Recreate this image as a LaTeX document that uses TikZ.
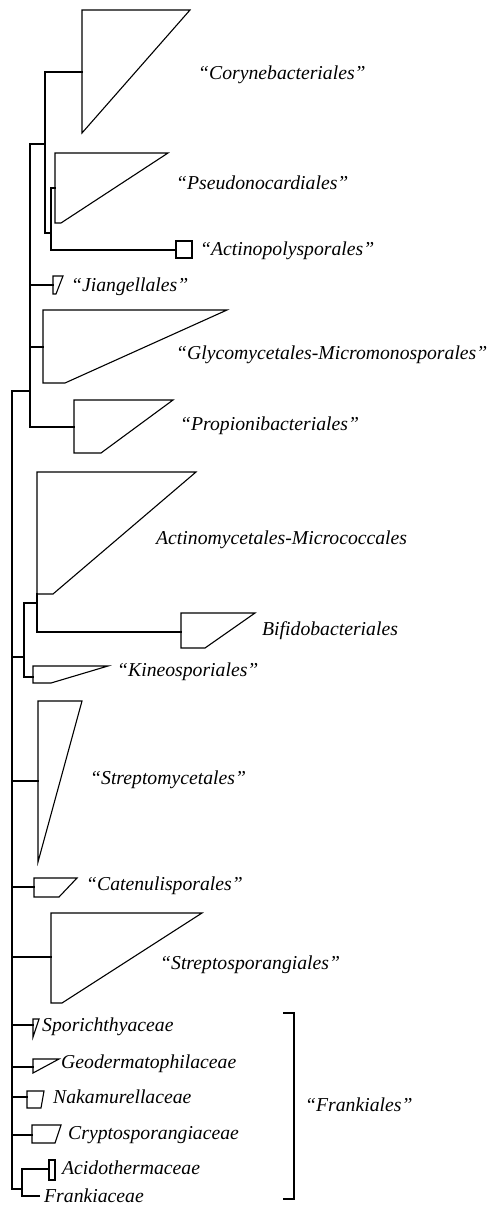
\documentclass[tikz,border=0pt]{standalone}
\usepackage{fontspec}
\setmainfont{Liberation Serif}
\begin{document}
\begin{tikzpicture}[x=1pt,y=-1pt,
  branch/.style={line width=1.1pt, line cap=rect},
  clade/.style={line width=1.1pt, line join=miter},
  lab/.style={anchor=base west, inner sep=0pt, font=\fontsize{19.7}{20}\selectfont\itshape}]
\useasboundingbox (0,0) rectangle (491,1205);
% internal nodes
\coordinate (root) at (12,391);
\coordinate (rootend) at (12,1189);
\coordinate (nA) at (30,391);
\coordinate (nB) at (45,144);
\coordinate (nC) at (51,233);
\coordinate (nD) at (24,657);
\coordinate (nE) at (37,603);
\coordinate (nF) at (22,1189);
% spine
\draw[branch] (root) -- (rootend);
% clade A
\draw[branch] (root) -- (nA);
\draw[branch] (30,144) -- (30,427);
\draw[branch] (30,144) -- (nB);
\draw[branch] (45,72) -- (45,233);
% Corynebacteriales
\coordinate (coryC) at (82,72);
\draw[branch] (45,72) -- (coryC);
\draw[clade] (82,10) -- (190,10) -- (82,133) -- cycle;
\node[lab] (coryL) at (198,79) {“Corynebacteriales”};
% node C
\draw[branch] (45,233) -- (nC);
\draw[branch] (51,188) -- (51,250);
% Pseudonocardiales
\draw[branch] (51,188) -- (55,188);
\draw[clade] (55,153) -- (168,153) -- (61,223) -- (55,223) -- cycle;
\node[lab] (pseuL) at (176,189) {“Pseudonocardiales”};
% Actinopolysporales
\draw[branch] (51,250) -- (176,250);
\draw[clade] (176,241) rectangle (192,258);
\node[lab] (apolL) at (200,255) {“Actinopolysporales”};
% Jiangellales
\draw[branch] (30,285) -- (53,285);
\draw[clade] (53,276) -- (63,276) -- (56,294) -- (53,294) -- cycle;
\node[lab] (jiaL) at (71,291) {“Jiangellales”};
% Glycomycetales
\draw[branch] (30,347) -- (43,347);
\draw[clade] (43,310) -- (227,310) -- (65,383) -- (43,383) -- cycle;
\node[lab] (glyL) at (176,359) {“Glycomycetales-Micromonosporales”};
% Propionibacteriales
\draw[branch] (30,427) -- (74,427);
\draw[clade] (74,400) -- (173,400) -- (101,453) -- (74,453) -- cycle;
\node[lab] (proL) at (180,430) {“Propionibacteriales”};
% node D
\draw[branch] (12,657) -- (nD);
\draw[branch] (24,603) -- (24,677);
\draw[branch] (24,603) -- (nE);
% Actinomycetales-Micrococcales
\draw[clade] (37,472) -- (196,472) -- (53,594) -- (37,594) -- cycle;
\draw[branch] (37,594) -- (37,632) -- (181,632);
\node[lab] (actL) at (156,544) {Actinomycetales-Micrococcales};
% Bifidobacteriales
\draw[clade] (181,613) -- (255,613) -- (205,648) -- (181,648) -- cycle;
\node[lab] (bifL) at (262,635) {Bifidobacteriales};
% Kineosporiales
\draw[branch] (24,677) -- (33,677);
\draw[clade] (33,666) -- (108,666) -- (51,683) -- (33,683) -- cycle;
\node[lab] (kinL) at (117,676) {“Kineosporiales”};
% Streptomycetales
\draw[branch] (12,781) -- (38,781);
\draw[clade] (38,701) -- (82,701) -- (38,862) -- cycle;
\node[lab] (smyL) at (90,784) {“Streptomycetales”};
% Catenulisporales
\draw[branch] (12,887) -- (34,887);
\draw[clade] (34,878) -- (77,878) -- (59,897) -- (34,897) -- cycle;
\node[lab] (catL) at (86,890) {“Catenulisporales”};
% Streptosporangiales
\draw[branch] (12,957) -- (51,957);
\draw[clade] (51,913) -- (202,913) -- (62,1003) -- (51,1003) -- cycle;
\node[lab] (sspL) at (160,969) {“Streptosporangiales”};
% Sporichthyaceae
\draw[branch] (12,1025) -- (33,1025);
\draw[clade] (33,1019) -- (39,1019) -- (33,1037) -- cycle;
\node[lab] (spoL) at (42,1031) {Sporichthyaceae};
% Geodermatophilaceae
\draw[branch] (12,1067) -- (33,1067);
\draw[clade] (33,1059) -- (59,1059) -- (33,1073) -- cycle;
\node[lab] (geoL) at (61,1068) {Geodermatophilaceae};
% Nakamurellaceae
\draw[branch] (12,1097) -- (27,1097);
\draw[clade] (27,1091) -- (44,1091) -- (41,1108) -- (27,1108) -- cycle;
\node[lab] (nakL) at (53,1103) {Nakamurellaceae};
% Cryptosporangiaceae
\draw[branch] (12,1135) -- (32,1135);
\draw[clade] (32,1125) -- (61,1125) -- (55,1143) -- (32,1143) -- cycle;
\node[lab] (cryL) at (68,1139) {Cryptosporangiaceae};
% node F
\draw[branch] (rootend) -- (nF);
\draw[branch] (22,1169) -- (22,1196);
\draw[branch] (22,1169) -- (49,1169);
\draw[clade] (49,1160) rectangle (55,1180);
\node[lab] (acdL) at (62,1174) {Acidothermaceae};
\draw[branch] (22,1196) -- (39,1196);
\node[lab] (fraL) at (44,1202) {Frankiaceae};
% bracket
\coordinate (brT) at (283,1013);
\coordinate (brB) at (283,1199);
\draw[clade] (brT) -- (294,1013) -- (294,1199) -- (brB);
\node[lab] (frkL) at (305,1111) {“Frankiales”};
\end{tikzpicture}
\end{document}
